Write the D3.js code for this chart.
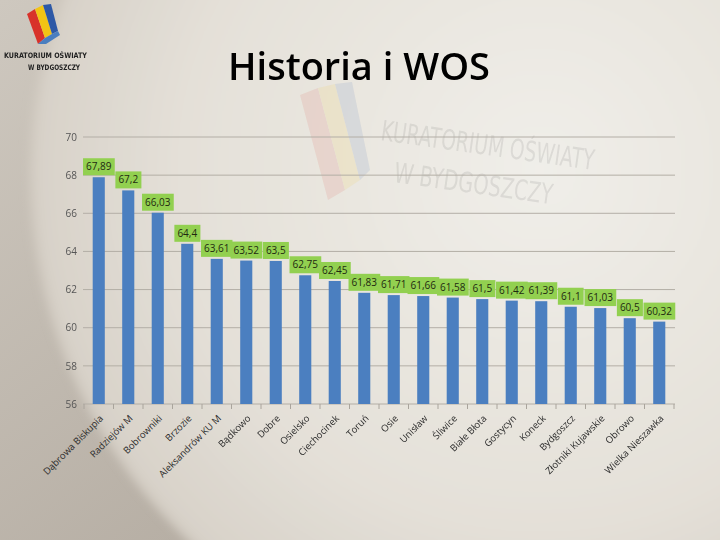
<!DOCTYPE html>
<html><head><meta charset="utf-8">
<script src="https://cdn.jsdelivr.net/npm/d3@7"></script>
<style>html,body{margin:0;padding:0;background:#e6e2da;}svg{display:block}</style>
</head><body>
<svg id="c" width="720" height="540"></svg>
<script>
const title = "Historia i WOS";
const categories = ["Dąbrowa Biskupia","Radziejów M","Bobrowniki","Brzozie","Aleksandrów KU M","Bądkowo","Dobre","Osielsko","Ciechocinek","Toruń","Osie","Unisław","Śliwice","Białe Błota","Gostycyn","Koneck","Bydgoszcz","Złotniki Kujawskie","Obrowo","Wielka Nieszawka"];
const values = [67.89,67.2,66.03,64.4,63.61,63.52,63.5,62.75,62.45,61.83,61.71,61.66,61.58,61.5,61.42,61.39,61.1,61.03,60.5,60.32];
const yTicks = [56,58,60,62,64,66,68,70];

const svg = d3.select("#c");
const defs = svg.append("defs");
const rg = defs.append("radialGradient").attr("id","bg").attr("gradientUnits","userSpaceOnUse")
  .attr("cx",540).attr("cy",170).attr("r",515);
rg.append("stop").attr("offset","0").attr("stop-color","#f0eee9");
rg.append("stop").attr("offset","0.7").attr("stop-color","#e4e0d8");
rg.append("stop").attr("offset","0.97").attr("stop-color","#d8d2c9");
rg.append("stop").attr("offset","1").attr("stop-color","#cbc4ba");
const lg = defs.append("linearGradient").attr("id","outer").attr("x1",0).attr("y1",0).attr("x2",1).attr("y2",1);
lg.append("stop").attr("offset","0").attr("stop-color","#cec8bf");
lg.append("stop").attr("offset","1").attr("stop-color","#a9a095");
const blur = defs.append("filter").attr("id","soft").attr("x","-10%").attr("y","-10%").attr("width","120%").attr("height","120%");
blur.append("feGaussianBlur").attr("stdDeviation",4);
svg.append("rect").attr("width",720).attr("height",540).attr("fill","url(#outer)");
svg.append("circle").attr("cx",540).attr("cy",170).attr("r",512).attr("fill","url(#bg)").attr("filter","url(#soft)");

// watermark
const wm = svg.append("g").attr("opacity",0.1);
wm.append("path").attr("d","M300,95 L318,88 L345,190 L328,200 Z").attr("fill","#d83a2a");
wm.append("path").attr("d","M318,88 L335,84 L360,180 L345,190 Z").attr("fill","#f2c413");
wm.append("path").attr("d","M335,84 L352,82 L370,170 L360,180 Z").attr("fill","#2e5aa8");
wm.append("text").attr("x",380).attr("y",140).attr("transform","rotate(8,380,140)")
  .attr("font-family","DejaVu Sans Condensed, sans-serif").attr("font-size",28).attr("fill","#333")
  .attr("textLength",215).attr("lengthAdjust","spacingAndGlyphs").text("KURATORIUM OŚWIATY");
wm.append("text").attr("x",393).attr("y",182).attr("transform","rotate(8,393,182)")
  .attr("font-family","DejaVu Sans Condensed, sans-serif").attr("font-size",28).attr("fill","#333")
  .attr("textLength",160).attr("lengthAdjust","spacingAndGlyphs").text("W BYDGOSZCZY");

// logo
const lgG = svg.append("g");
lgG.append("path").attr("d","M27,14 L35,9 L45,38 L38,44 Z").attr("fill","#d8322a");
lgG.append("path").attr("d","M35,9 L43,5 L52,34 L45,38 Z").attr("fill","#f2c414");
lgG.append("path").attr("d","M43,5 L51,4 L58,31 L52,34 Z").attr("fill","#2d58a6");
lgG.append("path").attr("d","M38,44 L45,38 L52,34 L58,31 L60,35 L46,44 Z").attr("fill","#4a7ebf");
lgG.append("text").attr("x",4).attr("y",58).attr("font-family","DejaVu Sans Condensed, sans-serif")
  .attr("font-size",7.5).attr("font-weight","bold").attr("fill","#222")
  .attr("textLength",83).attr("lengthAdjust","spacingAndGlyphs").text("KURATORIUM OŚWIATY");
lgG.append("text").attr("x",28).attr("y",70).attr("font-family","DejaVu Sans Condensed, sans-serif")
  .attr("font-size",7.5).attr("font-weight","bold").attr("fill","#222")
  .attr("textLength",52).attr("lengthAdjust","spacingAndGlyphs").text("W BYDGOSZCZY");

// title
svg.append("text").attr("x",359).attr("y",80).attr("text-anchor","middle")
  .attr("font-family","Open Sans, sans-serif").attr("font-weight",600).attr("font-size",38)
  .attr("fill","#000").text(title);

const x = d3.scaleBand().domain(categories).range([84,674]).paddingInner(0.59).paddingOuter(0.295);
const y = d3.scaleLinear().domain([56,70]).range([404,137]);

// gridlines
svg.append("g").selectAll("line").data(yTicks).join("line")
  .attr("x1",83).attr("x2",675).attr("y1",d=>y(d)).attr("y2",d=>y(d))
  .attr("stroke","#b3aea6").attr("stroke-width",1);

// y axis labels
const yAxis = d3.axisLeft(y).tickValues(yTicks).tickSize(0).tickPadding(6).tickFormat(d3.format("d"));
const ya = svg.append("g").attr("transform","translate(77,0)").call(yAxis);
ya.select(".domain").remove();
ya.selectAll("text").attr("font-family","Open Sans, sans-serif").attr("font-size",10).attr("fill","#555").attr("x",0).attr("text-anchor","end");

// bottom ticks
svg.append("g").selectAll("line").data(d3.range(categories.length+1)).join("line")
  .attr("x1",i=>84+i*x.step()).attr("x2",i=>84+i*x.step()).attr("y1",404).attr("y2",409)
  .attr("stroke","#a9a49c");

// bars
svg.append("g").selectAll("rect").data(values).join("rect")
  .attr("x",(d,i)=>x(categories[i])).attr("width",x.bandwidth())
  .attr("y",d=>y(d)).attr("height",d=>y(56)-y(d)).attr("fill","#4b7fc0");

// data labels
const lab = svg.append("g").selectAll("g").data(values).join("g")
  .attr("transform",(d,i)=>`translate(${x(categories[i])+x.bandwidth()/2},${y(d)-2})`);
lab.append("text").attr("x",0).attr("y",-5).attr("text-anchor","middle")
  .attr("font-family","Open Sans, sans-serif").attr("font-size",10).attr("fill","#1f2a10")
  .text(d=>d3.format(",")(d).replace(".",","));
lab.each(function(){
  const g = d3.select(this); const t = g.select("text"); const b = t.node().getBBox();
  g.insert("rect","text").attr("x",b.x-3).attr("y",-17).attr("width",b.width+6).attr("height",17).attr("fill","#92d050");
});

// category labels
svg.append("g").selectAll("text").data(categories).join("text")
  .attr("transform",d=>`translate(${x(d)+x.bandwidth()/2+5},${419}) rotate(-45)`)
  .attr("text-anchor","end").attr("font-family","Open Sans, sans-serif").attr("font-size",9.5).attr("fill","#2a2a2a")
  .text(d=>d);
</script>
</body></html>
